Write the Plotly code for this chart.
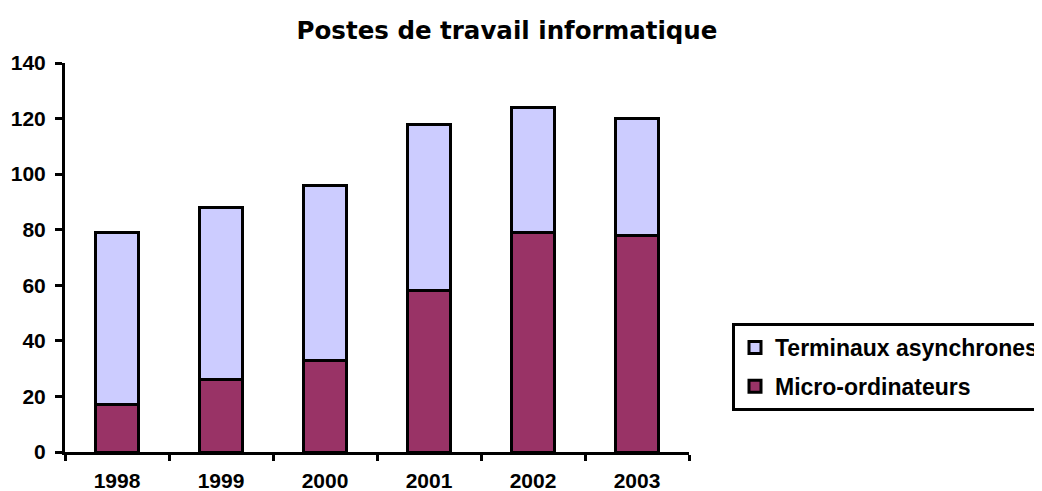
import plotly.graph_objects as go

years = ["1998", "1999", "2000", "2001", "2002", "2003"]
micro = [17, 26, 33, 58, 79, 78]
terminaux = [62, 62, 63, 60, 45, 42]
y_ticks = [0, 20, 40, 60, 80, 100, 120, 140]

FONT = "Liberation Sans"

fig = go.Figure()
fig.add_trace(go.Bar(
    x=years, y=micro, name="Micro-ordinateurs",
    marker=dict(color="#993366", line=dict(color="black", width=3)),
    legendgroup="m", legendrank=2,
))
fig.add_trace(go.Bar(
    x=years, y=terminaux, name="Terminaux asynchrones",
    marker=dict(color="#CCCCFF", line=dict(color="black", width=3)),
    legendgroup="t", legendrank=1,
))

# the page body adds an 8px offset; figure is sized to fit the window
fig.update_layout(
    width=1034, height=483,
    barmode="stack", bargap=0.59,
    plot_bgcolor="white", paper_bgcolor="white",
    margin=dict(l=57, r=353, t=55, b=39, autoexpand=False),
    title=dict(
        text="Postes de travail informatique",
        font=dict(family="DejaVu Sans", size=24.5, color="black", weight="bold"),
        x=0.4826, xref="container", xanchor="center",
        y=1 - 22 / 483, yref="container", yanchor="middle",
    ),
    legend=dict(
        x=(724 - 57) / 624, xanchor="left",
        y=(444 - 315) / 389, yanchor="top",
        bordercolor="black", borderwidth=3,
        font=dict(family=FONT, size=23, color="black", weight="bold"),
        traceorder="grouped", tracegroupgap=6,
        bgcolor="white",
    ),
    showlegend=True,
)
fig.update_xaxes(
    type="category", automargin=False,
    showline=True, linecolor="black", linewidth=3,
    ticks="outside", ticklen=6, tickwidth=3, tickcolor="black",
    tickson="boundaries",
    tickfont=dict(family=FONT, size=21, color="black", weight="bold"),
    ticklabelstandoff=8,
    showgrid=False, zeroline=False,
)
fig.update_yaxes(
    range=[0, 140], tickvals=y_ticks, automargin=False,
    showline=True, linecolor="black", linewidth=3,
    ticks="outside", ticklen=7, tickwidth=3, tickcolor="black",
    tickfont=dict(family=FONT, size=21, color="black", weight="bold"),
    ticklabelstandoff=5,
    showgrid=False, zeroline=False,
)

fig.write_html("out.html")
